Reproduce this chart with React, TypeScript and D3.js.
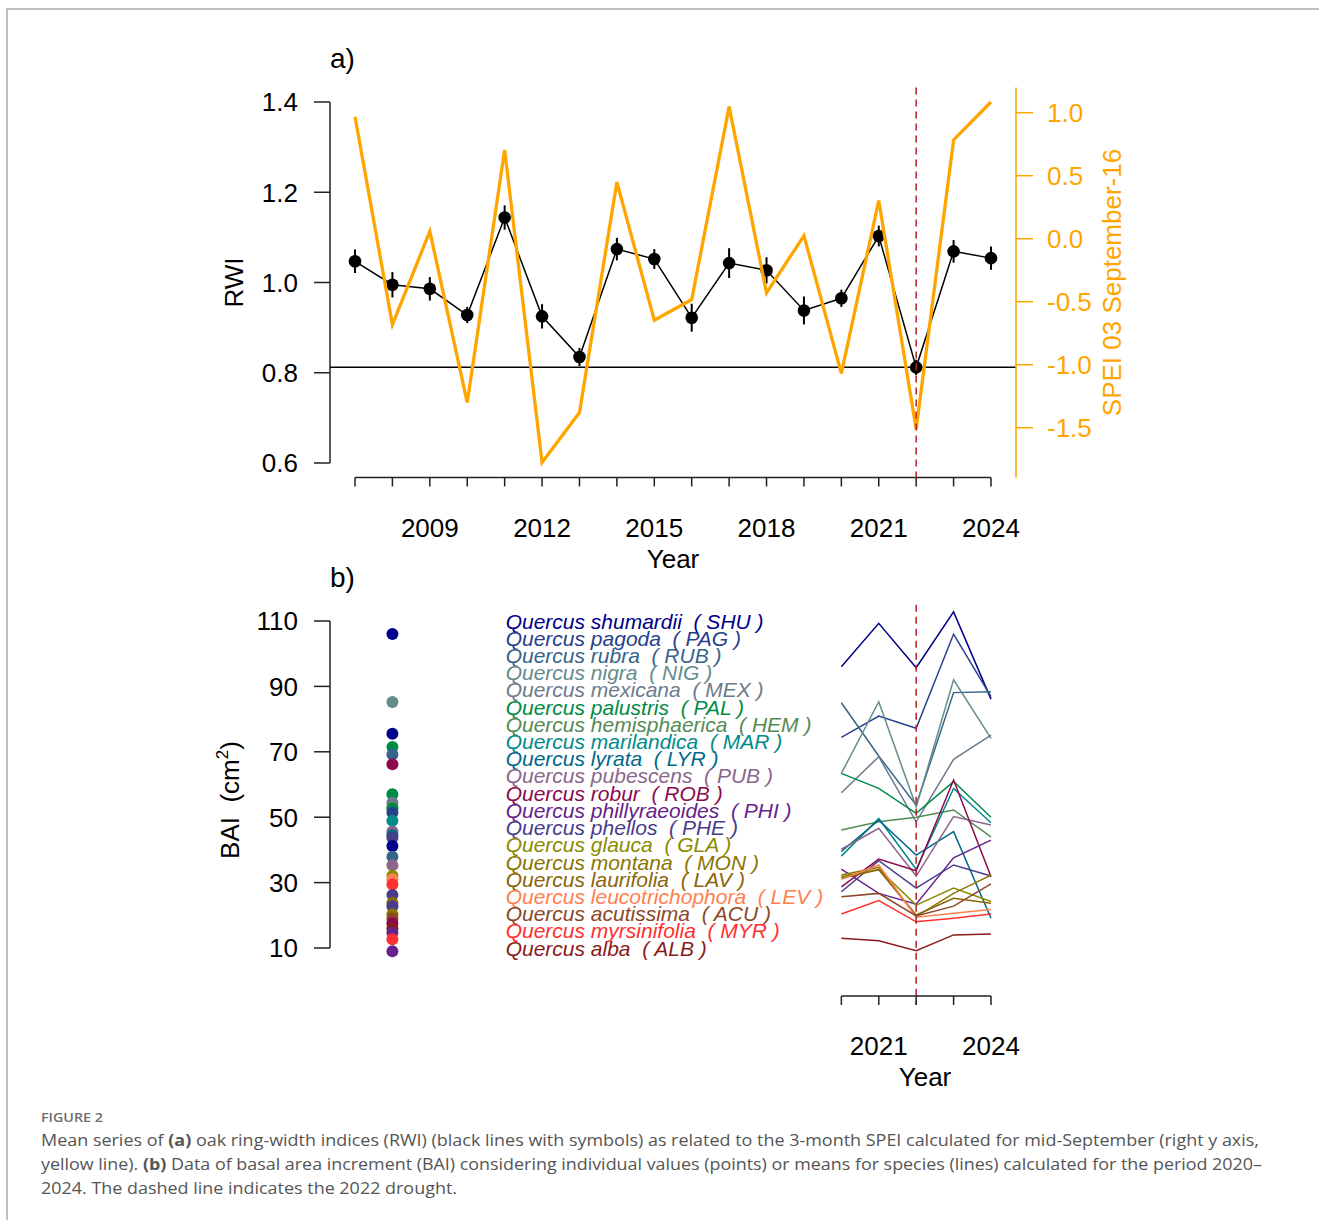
import React from 'react';
import * as d3 from 'd3';

// ---- panel a data ----
const years = [2007, 2008, 2009, 2010, 2011, 2012, 2013, 2014, 2015, 2016, 2017, 2018, 2019, 2020, 2021, 2022, 2023, 2024];
const rwi = [1.047, 0.995, 0.986, 0.928, 1.144, 0.925, 0.835, 1.074, 1.052, 0.922, 1.043, 1.027, 0.938, 0.965, 1.103, 0.812, 1.069, 1.054];
const rwiErr = [0.026, 0.028, 0.026, 0.018, 0.027, 0.027, 0.02, 0.025, 0.022, 0.031, 0.033, 0.029, 0.031, 0.019, 0.023, 0.017, 0.025, 0.026];
const spei = [0.968, -0.681, 0.058, -1.301, 0.705, -1.776, -1.38, 0.449, -0.647, -0.483, 1.048, -0.43, 0.024, -1.069, 0.303, -1.512, 0.784, 1.085];
const rwiTicks = [0.6, 0.8, 1.0, 1.2, 1.4];
const speiTicks = [-1.5, -1.0, -0.5, 0.0, 0.5, 1.0];
const yearLabels = [2009, 2012, 2015, 2018, 2021, 2024];
const droughtYear = 2022;
const rwiRef = 0.812;

// ---- panel b data ----
const baiYears = [2020, 2021, 2022, 2023, 2024];
const baiTicks = [10, 30, 50, 70, 90, 110];
const baiYearLabels = [2021, 2024];
const speciesNames = ['shumardii', 'pagoda', 'rubra', 'nigra', 'mexicana', 'palustris', 'hemisphaerica', 'marilandica', 'lyrata', 'pubescens', 'robur', 'phillyraeoides', 'phellos', 'glauca', 'montana', 'laurifolia', 'leucotrichophora', 'acutissima', 'myrsinifolia', 'alba'];
const speciesCodes = ['SHU', 'PAG', 'RUB', 'NIG', 'MEX', 'PAL', 'HEM', 'MAR', 'LYR', 'PUB', 'ROB', 'PHI', 'PHE', 'GLA', 'MON', 'LAV', 'LEV', 'ACU', 'MYR', 'ALB'];
const speciesColors = ['#00008B', '#27408B', '#36648B', '#668B8B', '#6C7B8B', '#008B45', '#548B54', '#008B8B', '#00688B', '#8B668B', '#8B0A50', '#68228B', '#483D8B', '#8B8B00', '#8B7500', '#8B6508', '#FF7F50', '#8B4726', '#FF3030', '#8B1A1A'];

const shu = [96.0, 109.3, 95.7, 112.8, 86.1];
const pag = [74.4, 80.9, 77.2, 106.0, 86.9];
const rub = [85.0, 68.7, 53.7, 88.1, 88.4];
const nig = [63.4, 85.3, 53.2, 92.0, 74.1];
const mex = [57.5, 68.5, 48.6, 67.7, 75.1];
const pal = [63.4, 58.8, 51.2, 60.9, 50.0];
const hem = [46.1, 48.6, 50.0, 52.2, 44.0];
const mar = [38.1, 49.6, 34.1, 58.8, 48.3];
const lyr = [39.5, 49.1, 38.4, 45.6, 19.1];
const pub = [40.2, 46.6, 32.0, 50.2, 47.6];
const rob = [28.7, 37.2, 33.6, 61.4, 31.8];
const phi = [34.1, 26.7, 23.4, 37.6, 43.0];
const phe = [27.2, 36.7, 28.3, 35.4, 32.0];
const gla = [31.8, 34.1, 23.1, 28.3, 24.2];
const mon = [32.3, 34.7, 19.6, 26.7, 32.3];
const lav = [31.3, 33.9, 20.1, 25.2, 23.7];
const lev = [31.0, 35.4, 19.4, 20.6, 21.8];
const acu = [25.7, 26.7, 19.8, 22.8, 29.6];
const myr = [20.4, 24.5, 18.0, 19.1, 20.4];
const alb = [13.0, 12.2, 9.2, 14.0, 14.3];
const baiMeans = [shu, pag, rub, nig, mex, pal, hem, mar, lyr, pub, rob, phi, phe, gla, mon, lav, lev, acu, myr, alb];

// individual BAI values shown as points (2022)
const pointValues = [106.0, 85.2, 75.5, 71.5, 69.2, 66.2, 57.0, 54.4, 53.0, 52.6, 51.4, 48.9, 45.6, 44.5, 43.7, 41.2, 37.9, 35.3, 32.1, 31.0, 29.4, 26.2, 23.8, 22.8, 20.3, 19.0, 17.6, 16.0, 14.7, 12.7, 9.0];
const pointCodes = ['SHU', 'NIG', 'SHU', 'PAL', 'RUB', 'ROB', 'PAL', 'MEX', 'HEM', 'PAL', 'PAG', 'MAR', 'PUB', 'LYR', 'PHE', 'SHU', 'RUB', 'PUB', 'GLA', 'LEV', 'MYR', 'PHE', 'LAV', 'PHE', 'MON', 'ACU', 'ROB', 'ALB', 'PHI', 'MYR', 'PHI'];

const captionLine1a = 'Mean series of ';
const captionLine1b = ' oak ring-width indices (RWI) (black lines with symbols) as related to the 3-month SPEI calculated for mid-September (right y axis,';
const captionLine2a = 'yellow line). ';
const captionLine2b = ' Data of basal area increment (BAI) considering individual values (points) or means for species (lines) calculated for the period 2020\u2013';
const captionLine3 = '2024. The dashed line indicates the 2022 drought.';

const W = 1319;
const H = 1220;
const FONT = '"Liberation Sans", Arial, sans-serif';
const ORANGE = '#FFA500';
const DROUGHT = '#B22222';
const FS = 26;

export default function App() {
  const x = d3.scaleLinear().domain([2007, 2024]).range([355, 991]);
  const yRwi = d3.scaleLinear().domain([0.6, 1.4]).range([463, 102]);
  const ySpei = d3.scaleLinear().domain([-1.5, 1.0]).range([427.7, 112.7]);
  const yBai = d3.scaleLinear().domain([10, 110]).range([948, 621]);

  const aTop = yRwi(1.432);
  const aBottom = yRwi(0.568);
  const axisLeftX = 330;
  const axisRightX = 1016;
  const bTop = yBai(115);
  const bAxisY = 996;

  const rwiLine = d3.line<number>().x((_, i) => x(years[i])).y(d => yRwi(d));
  const speiLine = d3.line<number>().x((_, i) => x(years[i])).y(d => ySpei(d));
  const baiLine = d3.line<number>().x((_, i) => x(baiYears[i])).y(d => yBai(d));

  const colorOf = (code: string) => speciesColors[speciesCodes.indexOf(code)];
  const legendStep = (110 - 10) / (speciesCodes.length - 1);

  return (
    <div style={{ position: 'absolute', left: 0, top: 0 }}>
      <svg width={W} height={H} style={{ display: 'block', fontFamily: FONT }}>
        <rect width={W} height={H} fill="#fff" />
        {/* frame */}
        <path d={`M7,${H} V9 H${W}`} fill="none" stroke="#aaa" strokeWidth={1.5} />

        {/* ---------- panel a ---------- */}
        <text x={330} y={68} fontSize={28}>a)</text>
        {/* left axis */}
        <line x1={axisLeftX} x2={axisLeftX} y1={yRwi(0.6)} y2={yRwi(1.4)} stroke="#222" strokeWidth={1.5} />
        {rwiTicks.map(t => (
          <g key={t}>
            <line x1={axisLeftX - 16} x2={axisLeftX} y1={yRwi(t)} y2={yRwi(t)} stroke="#222" strokeWidth={1.5} />
            <text x={298} y={yRwi(t)} dy="0.36em" textAnchor="end" fontSize={FS}>{t.toFixed(1)}</text>
          </g>
        ))}
        <text transform={`translate(243,${yRwi(1.0)}) rotate(-90)`} textAnchor="middle" fontSize={FS}>RWI</text>
        {/* bottom axis */}
        <line x1={x(2007)} x2={x(2024)} y1={aBottom} y2={aBottom} stroke="#222" strokeWidth={1.5} />
        {years.map(yr => (
          <line key={yr} x1={x(yr)} x2={x(yr)} y1={aBottom} y2={aBottom + 9} stroke="#222" strokeWidth={1.5} />
        ))}
        {yearLabels.map(yr => (
          <text key={yr} x={x(yr)} y={537} textAnchor="middle" fontSize={FS}>{yr}</text>
        ))}
        <text x={673} y={568} textAnchor="middle" fontSize={FS}>Year</text>

        {/* reference line */}
        <line x1={axisLeftX} x2={axisRightX} y1={yRwi(rwiRef)} y2={yRwi(rwiRef)} stroke="#000" strokeWidth={1.5} />

        {/* RWI series */}
        <path d={rwiLine(rwi) || ''} fill="none" stroke="#000" strokeWidth={1.5} />
        {rwi.map((v, i) => (
          <line key={'e' + i} x1={x(years[i])} x2={x(years[i])} y1={yRwi(v - rwiErr[i])} y2={yRwi(v + rwiErr[i])} stroke="#000" strokeWidth={2} />
        ))}
        {rwi.map((v, i) => (
          <circle key={'p' + i} cx={x(years[i])} cy={yRwi(v)} r={6.3} fill="#000" />
        ))}

        {/* SPEI series */}
        <path d={speiLine(spei) || ''} fill="none" stroke={ORANGE} strokeWidth={3.3} strokeLinejoin="miter" />
        <line x1={axisRightX} x2={axisRightX} y1={aTop} y2={aBottom} stroke={ORANGE} strokeWidth={1.5} />
        {speiTicks.map(t => (
          <g key={t}>
            <line x1={axisRightX} x2={axisRightX + 17} y1={ySpei(t)} y2={ySpei(t)} stroke={ORANGE} strokeWidth={1.5} />
            <text x={1047} y={ySpei(t)} dy="0.36em" fontSize={FS} fill={ORANGE}>{t.toFixed(1)}</text>
          </g>
        ))}
        <text transform={`translate(1121,${yRwi(1.0)}) rotate(-90)`} textAnchor="middle" fontSize={FS} fill={ORANGE}>SPEI 03 September-16</text>

        {/* drought marker */}
        <line x1={x(droughtYear)} x2={x(droughtYear)} y1={aTop} y2={aBottom + 2} stroke={DROUGHT} strokeWidth={1.5} strokeDasharray="7,5" />

        {/* ---------- panel b ---------- */}
        <text x={330} y={587} fontSize={28}>b)</text>
        <line x1={axisLeftX} x2={axisLeftX} y1={yBai(10)} y2={yBai(110)} stroke="#222" strokeWidth={1.5} />
        {baiTicks.map(t => (
          <g key={t}>
            <line x1={axisLeftX - 16} x2={axisLeftX} y1={yBai(t)} y2={yBai(t)} stroke="#222" strokeWidth={1.5} />
            <text x={298} y={yBai(t)} dy="0.36em" textAnchor="end" fontSize={FS}>{t}</text>
          </g>
        ))}
        <text transform={`translate(239,800) rotate(-90)`} textAnchor="middle" fontSize={FS} style={{ whiteSpace: 'pre' }}>
          BAI  (cm<tspan fontSize={17} dy={-11}>2</tspan><tspan dy={11}>)</tspan>
        </text>

        {/* individual points */}
        {pointValues.map((v, i) => (
          <circle key={'bp' + i} cx={x(2008)} cy={yBai(v)} r={6} fill={colorOf(pointCodes[i])} />
        ))}

        {/* species legend */}
        {speciesNames.map((n, i) => (
          <text key={n} x={x(2011) + 1} y={yBai(110 - i * legendStep)} dy="0.36em" fontSize={21} fontStyle="italic"
            fill={speciesColors[i]} style={{ whiteSpace: 'pre' }}>
            {`Quercus ${n}  ( ${speciesCodes[i]} )`}
          </text>
        ))}

        {/* species mean lines */}
        {baiMeans.map((s, i) => (
          <path key={'l' + i} d={baiLine(s) || ''} fill="none" stroke={speciesColors[i]} strokeWidth={1.5} />
        ))}

        <line x1={x(droughtYear)} x2={x(droughtYear)} y1={bTop} y2={bAxisY + 9} stroke={DROUGHT} strokeWidth={1.5} strokeDasharray="7,5" />

        {/* bottom axis b */}
        <line x1={x(2020)} x2={x(2024)} y1={bAxisY} y2={bAxisY} stroke="#222" strokeWidth={1.5} />
        {baiYears.map(yr => (
          <line key={yr} x1={x(yr)} x2={x(yr)} y1={bAxisY} y2={bAxisY + 9} stroke="#222" strokeWidth={1.5} />
        ))}
        {baiYearLabels.map(yr => (
          <text key={yr} x={x(yr)} y={1055} textAnchor="middle" fontSize={FS}>{yr}</text>
        ))}
        <text x={925} y={1086} textAnchor="middle" fontSize={FS}>Year</text>

        {/* ---------- caption ---------- */}
        <g fontFamily='"Open Sans", "Noto Sans", sans-serif'>
          <text x={41} y={1122} fontSize={13} fontWeight={600} fill="#6e6e6e" textLength={62} lengthAdjust="spacingAndGlyphs">FIGURE 2</text>
          <text x={41} y={1146} fontSize={16.5} fill="#555" textLength={1218} lengthAdjust="spacingAndGlyphs">
            {captionLine1a}<tspan fontWeight={700}>(a)</tspan>{captionLine1b}
          </text>
          <text x={41} y={1170} fontSize={16.5} fill="#555" textLength={1221} lengthAdjust="spacingAndGlyphs">
            {captionLine2a}<tspan fontWeight={700}>(b)</tspan>{captionLine2b}
          </text>
          <text x={41} y={1194} fontSize={16.5} fill="#555" textLength={416} lengthAdjust="spacingAndGlyphs">{captionLine3}</text>
        </g>
      </svg>
    </div>
  );
}
